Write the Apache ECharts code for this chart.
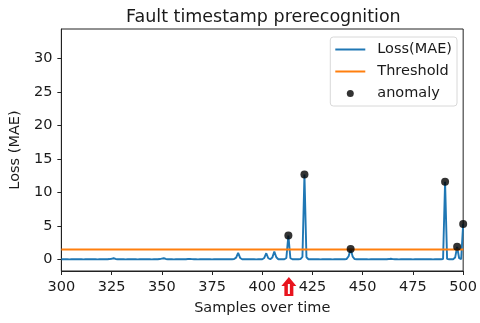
<!DOCTYPE html>
<html>
<head>
<meta charset="utf-8">
<script src="https://cdn.jsdelivr.net/npm/echarts@6/dist/echarts.min.js"></script>
<style>
  html, body { margin: 0; padding: 0; background: #fff; }
  #chart { width: 480px; height: 323px; }
</style>
</head>
<body>
<div id="chart"></div>
<script>
// samples 300..500, one value per sample
const sampleStart = 300
const loss = [
  0.05, 0.05, 0.06, 0.05, 0.04, 0.05, 0.05, 0.06, 0.05, 0.05, // 300
  0.05, 0.04, 0.05, 0.05, 0.06, 0.05, 0.05, 0.05, 0.04, 0.05, // 310
  0.05, 0.06, 0.05, 0.05, 0.08, 0.12, 0.20, 0.10, 0.06, 0.05, // 320
  0.05, 0.05, 0.04, 0.05, 0.06, 0.05, 0.05, 0.05, 0.04, 0.05, // 330
  0.05, 0.06, 0.05, 0.05, 0.05, 0.04, 0.05, 0.06, 0.05, 0.08, // 340
  0.14, 0.20, 0.10, 0.06, 0.05, 0.05, 0.04, 0.05, 0.05, 0.06, // 350
  0.05, 0.05, 0.06, 0.08, 0.10, 0.07, 0.05, 0.05, 0.04, 0.05, // 360
  0.05, 0.06, 0.05, 0.05, 0.05, 0.04, 0.05, 0.06, 0.05, 0.05, // 370
  0.05, 0.05, 0.06, 0.05, 0.05, 0.06, 0.10, 0.30, 1.00, 0.25, // 380
  0.06, 0.05, 0.05, 0.06, 0.05, 0.05, 0.05, 0.04, 0.05, 0.06, // 390
  0.06, 0.25, 0.95, 0.20, 0.06, 0.30, 1.20, 0.35, 0.06, 0.05, // 400
  0.05, 0.06, 0.25, 3.60, 0.20, 0.05, 0.05, 0.06, 0.05, 0.08, // 410
  0.40, 12.70, 0.35, 0.06, 0.05, 0.05, 0.06, 0.05, 0.05, 0.04, // 420
  0.05, 0.05, 0.06, 0.05, 0.05, 0.04, 0.05, 0.06, 0.05, 0.05, // 430
  0.05, 0.06, 0.10, 0.50, 1.60, 0.45, 0.08, 0.05, 0.05, 0.06, // 440
  0.05, 0.05, 0.05, 0.04, 0.05, 0.06, 0.05, 0.05, 0.05, 0.06, // 450
  0.05, 0.05, 0.06, 0.08, 0.12, 0.07, 0.05, 0.05, 0.04, 0.05, // 460
  0.05, 0.06, 0.05, 0.05, 0.05, 0.04, 0.05, 0.06, 0.05, 0.05, // 470
  0.05, 0.05, 0.06, 0.05, 0.05, 0.04, 0.05, 0.06, 0.05, 0.05, // 480
  0.08, 11.60, 0.10, 0.05, 0.06, 0.05, 0.30, 1.90, 0.20, 0.06, // 490
  5.30 // 500
]
const threshold = 1.5
const anomalyX = [413, 421, 444, 491, 497, 500]
const yTicks = [0, 5, 10, 15, 20, 25, 30]
const faultAt = 413 // red arrow under the axis

const lossData = loss.map((v, i) => [sampleStart + i, v])
const anomalyData = anomalyX.map(x => [x, loss[x - sampleStart]])

const font = 'DejaVu Sans'
const black = '#222'
const txt = '#1a1a1a'
const lineIcon = 'path://M0,0H30V2H0Z'

let myChart = echarts.init(document.getElementById('chart'))
myChart.setOption({
  animation: false,
  title: {
    text: 'Fault timestamp prerecognition',
    left: 121, top: 3,
    textStyle: { fontFamily: font, fontSize: 17.5, fontWeight: 'normal', color: txt }
  },
  grid: {
    left: 59, right: 16, top: 29, bottom: 52,
    show: true, borderColor: black, borderWidth: 1
  },
  legend: {
    right: 23, top: 37,
    orient: 'vertical',
    itemWidth: 30, itemHeight: 7, itemGap: 7,
    padding: [5, 5, 5, 5],
    borderColor: '#d8d8d8', borderWidth: 1, borderRadius: 3,
    textStyle: { fontFamily: font, fontSize: 14.5, color: txt, padding: [0, 0, 0, 7] },
    data: [
      { name: 'Loss(MAE)', icon: lineIcon },
      { name: 'Threshold', icon: lineIcon },
      { name: 'anomaly', icon: 'circle' }
    ]
  },
  xAxis: {
    type: 'value', min: 300, max: 500, interval: 25,
    name: 'Samples over time', nameLocation: 'middle', nameGap: 30,
    nameTextStyle: { fontFamily: font, fontSize: 14.5, color: txt },
    axisLine: { onZero: false, lineStyle: { color: black } },
    axisTick: { show: true, length: 4, lineStyle: { color: black } },
    axisLabel: { fontFamily: font, fontSize: 14.5, color: txt, margin: 9 },
    splitLine: { show: false }
  },
  yAxis: {
    type: 'value', min: -1.7, max: 34.4,
    name: 'Loss (MAE)', nameLocation: 'middle', nameGap: 37,
    nameTextStyle: { fontFamily: font, fontSize: 14.5, color: txt },
    axisLine: { show: true, onZero: false, lineStyle: { color: black } },
    axisTick: { show: true, length: 4, customValues: yTicks, lineStyle: { color: black } },
    axisLabel: { fontFamily: font, fontSize: 14.5, color: txt, margin: 9, customValues: yTicks },
    splitLine: { show: false }
  },
  series: [
    {
      name: 'Loss(MAE)', type: 'line', data: lossData,
      symbol: 'none', color: '#1f77b4',
      lineStyle: { width: 1.9, color: '#1f77b4' }
    },
    {
      name: 'Threshold', type: 'line',
      data: [[300, threshold], [500, threshold]],
      symbol: 'none', color: '#ff7f0e',
      lineStyle: { width: 1.9, color: '#ff7f0e' }
    },
    {
      name: 'anomaly', type: 'scatter', data: anomalyData,
      symbolSize: 8, color: '#000', z: 5
    }
  ]
})

// red arrow under the x axis at the fault sample
const arrowX = myChart.convertToPixel({ gridIndex: 0 }, [faultAt, 0])[0] + 0.5
const arrowTop = 277, arrowW = 15, headH = 9, shaftW = 9, arrowBottom = 296
myChart.setOption({
  graphic: [
    {
      type: 'polygon', z: 100,
      shape: {
        points: [
          [arrowX, arrowTop], [arrowX + arrowW / 2, arrowTop + headH], [arrowX + shaftW / 2, arrowTop + headH],
          [arrowX + shaftW / 2, arrowBottom], [arrowX - shaftW / 2, arrowBottom],
          [arrowX - shaftW / 2, arrowTop + headH], [arrowX - arrowW / 2, arrowTop + headH]
        ]
      },
      style: { fill: '#e8141e' }
    },
    {
      type: 'rect', z: 101,
      shape: { x: arrowX - 1, y: arrowTop + 7, width: 2, height: 10 },
      style: { fill: '#fff' }
    }
  ]
})
window.onresize = myChart.resize
</script>
</body>
</html>
